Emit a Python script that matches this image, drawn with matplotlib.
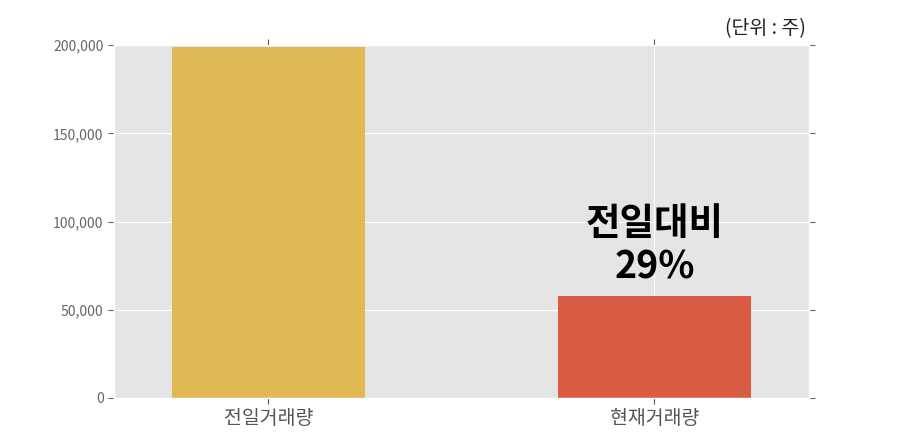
import matplotlib
matplotlib.use("Agg")
import matplotlib.pyplot as plt
from matplotlib.ticker import FuncFormatter

plt.style.use("ggplot")
plt.rcParams['font.family'] = ['Noto Sans CJK KR', 'DejaVu Sans']

categories = ["전일거래량", "현재거래량"]
volumes = [199000, 58000]
bar_colors = ["#E0B854", "#D95B43"]
ratio_label = "전일대비\n29%"
yticks = [0, 50000, 100000, 150000, 200000]

fig = plt.figure(figsize=(9, 4.43), dpi=100)
ax = fig.add_axes([0.1267, 0.1016, 0.772, 0.7964])

x = range(len(categories))
ax.bar(x, volumes, width=0.5, color=bar_colors)
ax.set_xlim(-0.4, 1.4)
ax.set_ylim(0, 200000)
ax.set_yticks(yticks)
ax.yaxis.set_major_formatter(FuncFormatter(lambda v, p: f"{int(v):,}"))
ax.set_xticks(list(x))
ax.set_xticklabels(categories, fontsize=14, color="#555555")
ax.tick_params(axis="y", labelsize=10, colors="#666666", direction="out",
               right=True, length=4)
ax.tick_params(axis="x", direction="out", top=True, length=4)
ax.grid(True, color="white", linewidth=0.8)
ax.set_axisbelow(True)

ax.text(1, volumes[1] + 5000, ratio_label, ha="center", va="bottom",
        fontsize=27, fontweight="bold", color="black", linespacing=1.15)

fig.text(0.895, 0.935, "(단위 : 주)", ha="right", va="center", fontsize=14,
         color="#222222")

fig.savefig("out.png", dpi=100)
